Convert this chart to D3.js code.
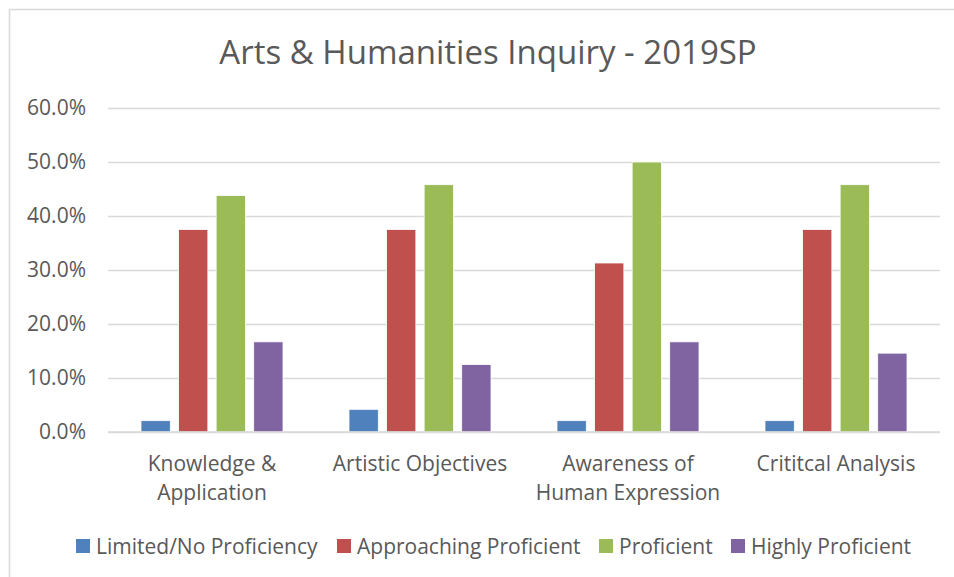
<!DOCTYPE html>
<html>
<head>
<meta charset="utf-8">
<script src="https://cdn.jsdelivr.net/npm/d3@7"></script>
<style>
  body { margin: 0; background: #fff; }
  svg { display: block; font-family: "Open Sans", sans-serif; }
</style>
</head>
<body>
<svg id="chart" width="954" height="577"></svg>
<script>
// chart data
var categories = [['Knowledge &', 'Application'], ['Artistic Objectives'], ['Awareness of', 'Human Expression'], ['Crititcal Analysis']];
var seriesNames = ['Limited/No Proficiency', 'Approaching Proficient', 'Proficient', 'Highly Proficient'];
var seriesColors = ['#4F81BD', '#C0504D', '#9BBB59', '#8064A2'];
var limited = [0.021, 0.042, 0.021, 0.021];
var approaching = [0.375, 0.375, 0.313, 0.375];
var proficient = [0.438, 0.458, 0.500, 0.458];
var highly = [0.167, 0.125, 0.167, 0.146];
var yTicks = [0, 0.1, 0.2, 0.3, 0.4, 0.5, 0.6];

var values = [limited, approaching, proficient, highly];

var svg = d3.select('#chart');
var plot = { left: 108, right: 940, top: 108, bottom: 432 };

/* outer chart border (runs past the right/bottom edge in the original) */
svg.append('rect')
    .attr('x', 9.5).attr('y', 9.5)
    .attr('width', 980).attr('height', 600)
    .attr('fill', '#fff')
    .attr('stroke', '#D9D9D9')
    .attr('stroke-width', 1.5);

svg.append('text')
    .attr('x', 488).attr('y', 64)
    .attr('text-anchor', 'middle')
    .attr('fill', '#595959')
    .attr('font-size', 33)
    .text('Arts & Humanities Inquiry - 2019SP');

var y = d3.scaleLinear().domain([0, 0.6]).range([plot.bottom, plot.top]);
var x0 = d3.scaleBand().domain(d3.range(categories.length))
    .range([plot.left, plot.right]).padding(0);
var groupPad = 33;
var x1 = d3.scaleBand().domain(d3.range(seriesNames.length))
    .range([groupPad, x0.bandwidth() - groupPad])
    .paddingInner(0.22).paddingOuter(0);

// gridlines + y labels
var yAxis = d3.axisLeft(y).tickValues(yTicks)
    .tickSize(-(plot.right - plot.left))
    .tickPadding(22)
    .tickFormat(d3.format('.1%'));

var gy = svg.append('g')
    .attr('transform', 'translate(' + plot.left + ',0)')
    .call(yAxis);
gy.select('.domain').remove();
gy.selectAll('.tick line').attr('stroke', '#D9D9D9').attr('stroke-width', 1.5);
gy.selectAll('.tick text')
    .attr('fill', '#595959')
    .attr('font-size', 21)
    .attr('font-family', '"Open Sans", sans-serif');

// bars
var groups = svg.append('g').selectAll('g')
    .data(categories)
    .enter().append('g')
    .attr('transform', function(d, i) { return 'translate(' + x0(i) + ',0)'; });

groups.selectAll('rect')
    .data(function(d, i) {
        return values.map(function(s, k) { return { k: k, v: s[i] }; });
    })
    .enter().append('rect')
    .attr('x', function(d) { return x1(d.k); })
    .attr('width', x1.bandwidth())
    .attr('y', function(d) { return y(d.v); })
    .attr('height', function(d) { return y(0) - y(d.v); })
    .attr('fill', function(d) { return seriesColors[d.k]; })
    .attr('stroke', '#fff')
    .attr('stroke-width', 0.8);

// x axis baseline
svg.append('line')
    .attr('x1', plot.left).attr('x2', plot.right)
    .attr('y1', y(0)).attr('y2', y(0))
    .attr('stroke', '#D9D9D9').attr('stroke-width', 1.5);

// category labels
var catText = svg.append('g').selectAll('text')
    .data(categories)
    .enter().append('text')
    .attr('text-anchor', 'middle')
    .attr('fill', '#595959')
    .attr('font-size', 21)
    .attr('x', function(d, i) { return x0(i) + x0.bandwidth() / 2; })
    .attr('y', 471);
catText.selectAll('tspan')
    .data(function(d) { return d; })
    .enter().append('tspan')
    .attr('x', function() { return d3.select(this.parentNode).attr('x'); })
    .attr('dy', function(d, i) { return i === 0 ? 0 : 29; })
    .text(function(d) { return d; });

// legend
var legendX = [76, 337, 599, 731];
var legend = svg.append('g').selectAll('g')
    .data(seriesNames)
    .enter().append('g')
    .attr('transform', function(d, i) { return 'translate(' + legendX[i] + ',539)'; });
legend.append('rect')
    .attr('width', 14).attr('height', 14)
    .attr('fill', function(d, i) { return seriesColors[i]; });
legend.append('text')
    .attr('x', 20).attr('y', 14.5)
    .attr('fill', '#595959')
    .attr('font-size', 21)
    .text(function(d) { return d; });
</script>
</body>
</html>
